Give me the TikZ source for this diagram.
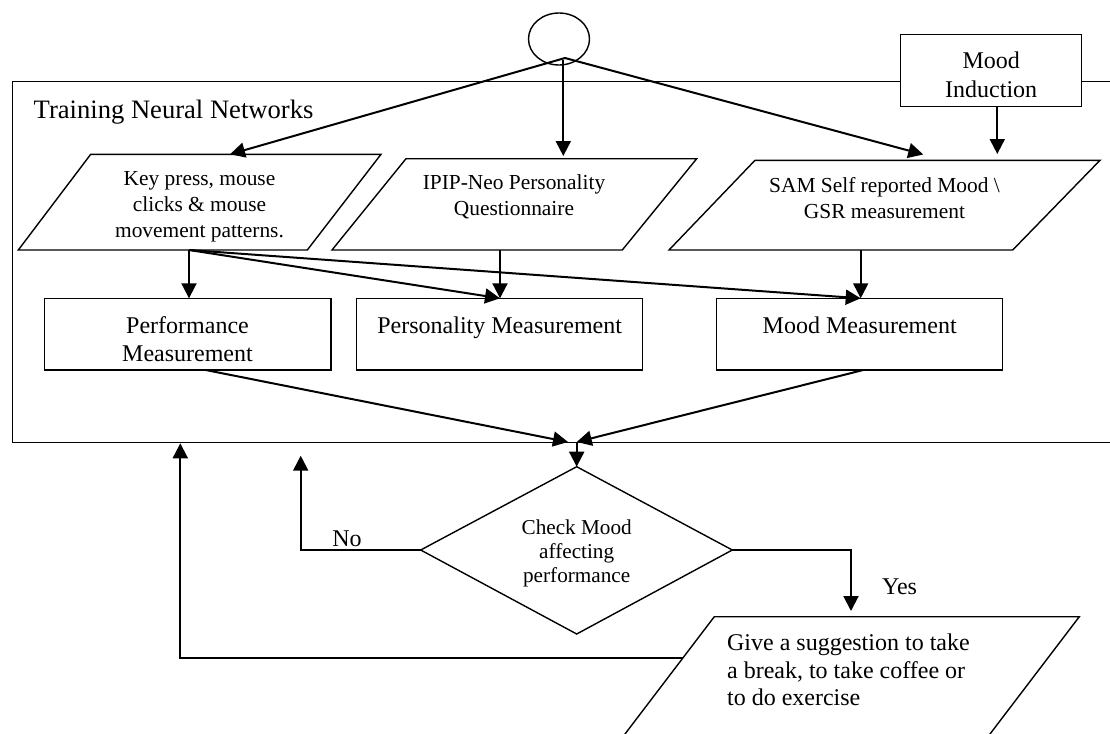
\documentclass[tikz,border=0pt]{standalone}
\usepackage{fontspec}
\setmainfont{Liberation Serif}
\usetikzlibrary{arrows.meta,shapes.geometric}
\begin{document}
\begin{tikzpicture}[x=0.5pt,y=-0.5pt,
  conn/.style={line width=1pt,-{Triangle[length=7.5pt,width=7.5pt]}},
  link/.style={line width=1pt},
  outline/.style={line width=0.7pt},
  lbl/.style={inner sep=0pt,align=center,anchor=north},
  bigf/.style={font=\fontsize{13.3}{16}\selectfont},
  boxf/.style={font=\fontsize{12}{14.15}\selectfont},
  paraf/.style={font=\fontsize{10.7}{13}\selectfont},
  diaf/.style={font=\fontsize{10.6}{12.2}\selectfont},
  sugf/.style={font=\fontsize{12}{13.9}\selectfont},
  rectbox/.style={draw,outline,rectangle,inner sep=0pt},
]
\clip (0,0) rectangle (1110,734);
% outer frame
\draw[outline] (12.3,81.7) rectangle (1130,442.7);
% start circle
\node[ellipse,draw,outline,minimum width=30.5pt,minimum height=26pt,inner sep=0pt] (start) at (559,39) {};
% mood induction
\node[rectbox,fill=white,minimum width=90.5pt,minimum height=36.2pt] (mi) at (991.2,70.5) {};
% parallelograms
\draw[outline] (90.7,154.3) -- (381,154.3) -- (307.3,250) -- (18.3,250) -- cycle;
\draw[outline] (406,158.7) -- (696.7,158.7) -- (622.3,250) -- (332,250) -- cycle;
\draw[outline] (755,160.3) -- (1100,160.3) -- (1012.7,250) -- (669,250) -- cycle;
% measurement boxes
\node[rectbox,minimum width=143.35pt,minimum height=35.85pt] (perf) at (187.65,334.15) {};
\node[rectbox,minimum width=143pt,minimum height=35.85pt] (pers) at (499.7,334.15) {};
\node[rectbox,minimum width=143pt,minimum height=35.85pt] (mood) at (859.7,334.15) {};
% decision diamond
\draw[outline] (576.7,466.7) -- (732.3,550) -- (576.7,634) -- (420.7,550) -- cycle;
% suggestion parallelogram
\draw[outline] (714.3,616.7) -- (1079.3,616.7) -- (970.2,760) -- (605.2,760) -- cycle;

% texts
\node[lbl,bigf,anchor=base west] (title) at (33.3,118.3) {Training Neural Networks};
\node[lbl,paraf] (t1) at (199.5,171) {Key press, mouse\\clicks \& mouse\\movement patterns.};
\node[lbl,paraf] (t2) at (514,174.5) {IPIP-Neo Personality\\Questionnaire};
\node[lbl,paraf] (t3) at (884.5,176.7) {SAM Self reported Mood \textbackslash\\GSR measurement};
\node[lbl,boxf] (t4) at (187.5,316) {Performance\\Measurement};
\node[lbl,boxf] (t5) at (499.7,316) {Personality Measurement};
\node[lbl,boxf] (t6) at (859.7,316) {Mood Measurement};
\node[lbl,boxf] (t7) at (991.2,51.7) {Mood\\Induction};
\node[lbl,diaf] (t8) at (576.7,519) {Check Mood\\affecting\\performance};
\node[lbl,boxf,anchor=base west] (no) at (332,546.7) {No};
\node[lbl,boxf,anchor=base west] (yes) at (881.7,594.7) {Yes};
\node[lbl,sugf,align=left,anchor=north west] (t9) at (726.7,633.3) {Give a suggestion to take\\a break, to take coffee or\\to do exercise};

% connector end points
\coordinate (apex) at (565,58);
\coordinate (apexv) at (563.3,60);
\coordinate (p1top) at (230,154.3);
\coordinate (p2top) at (563.3,156);
\coordinate (p3top) at (923.3,154.5);
\coordinate (mibot) at (997.3,106.7);
\coordinate (mito) at (997.3,154);
\coordinate (p1bot) at (189,250);
\coordinate (p2bot) at (500,250);
\coordinate (p3bot) at (860.7,250);
\coordinate (perftop) at (189,298.3);
\coordinate (perstop) at (500,298.3);
\coordinate (moodtop) at (860.7,298.3);
\coordinate (perfbot) at (205.7,370);
\coordinate (moodbot) at (863.3,370);
\coordinate (joinL) at (568,442);
\coordinate (joinR) at (576.7,442);
\coordinate (join) at (576.7,442.7);
\coordinate (dtop) at (576.7,466.7);
\coordinate (dleft) at (420.7,550);
\coordinate (dright) at (732.3,550);
\coordinate (nocorner) at (300.7,550);
\coordinate (noend) at (300.7,455.7);
\coordinate (yescorner) at (851,550);
\coordinate (yesend) at (851,611);
\coordinate (sugleft) at (683.3,658.3);
\coordinate (loopcorner) at (180.3,658.3);
\coordinate (loopend) at (180.3,443.3);

% connectors
\draw[conn] (apex) -- (p1top);
\draw[conn] (apexv) -- (p2top);
\draw[conn] (apex) -- (p3top);
\draw[conn] (mibot) -- (mito);
\draw[conn] (p1bot) -- (perftop);
\draw[conn] (p1bot) -- (perstop);
\draw[conn] (p1bot) -- (moodtop);
\draw[conn] (p2bot) -- (perstop);
\draw[conn] (p3bot) -- (moodtop);
\draw[conn] (perfbot) -- (joinL);
\draw[conn] (moodbot) -- (joinR);
\draw[conn] (join) -- (dtop);
\draw[conn] (dleft) -- (nocorner) -- (noend);
\draw[conn] (dright) -- (yescorner) -- (yesend);
\draw[conn] (sugleft) -- (loopcorner) -- (loopend);
\end{tikzpicture}
\end{document}
